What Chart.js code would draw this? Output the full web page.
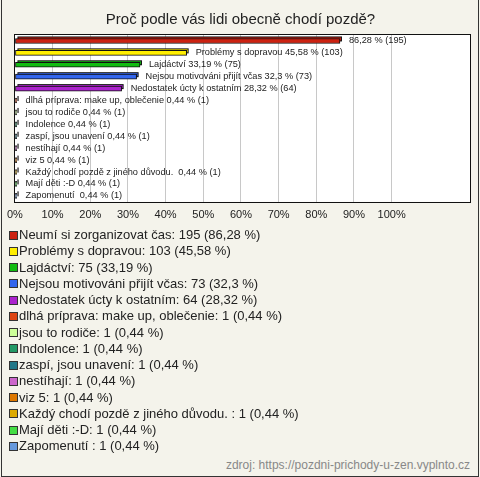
<!DOCTYPE html>
<html>
<head>
<meta charset="utf-8">
<script src="https://cdn.jsdelivr.net/npm/chart.js@4.4.1/dist/chart.umd.min.js"></script>
<style>
  html, body { margin: 0; padding: 0; }
  body { width: 480px; height: 477px; background: #f4f3eb; position: relative; overflow: hidden;
         font-family: "Liberation Sans", Arial, sans-serif; }
  #frame { position: absolute; left: 1px; top: -1px; width: 478px; height: 478px; box-sizing: border-box;
           border: 1px solid #333; pointer-events: none; }
  #chart { position: absolute; left: 0; top: 0; }
  #legend { position: absolute; left: 9px; top: 227px; margin: 0; padding: 0; list-style: none; }
  #legend li { height: 16.25px; line-height: 16.25px; font-size: 13px; color: #222; white-space: nowrap;
               display: flex; align-items: center; }
  #legend .sw { width: 7px; height: 7px; border: 1px solid #333; margin-right: 1px; flex: none; }
  #source { position: absolute; right: 10px; top: 458px; font-size: 12px; color: #888; white-space: nowrap; line-height: 14px; }
</style>
</head>
<body>
<canvas id="chart" width="480" height="232"></canvas>
<ul id="legend"></ul>
<div id="source"></div>
<div id="frame"></div>
<script>
const chartTitle = "Proč podle vás lidi obecně chodí pozdě?";
const sourceText = "zdroj: https://pozdni-prichody-u-zen.vyplnto.cz";
const categories = [
  "Neumí si zorganizovat čas",
  "Problémy s dopravou",
  "Lajdáctví",
  "Nejsou motivováni přijít včas",
  "Nedostatek úcty k ostatním",
  "dlhá príprava: make up, oblečenie",
  "jsou to rodiče",
  "Indolence",
  "zaspí, jsou unavení",
  "nestíhají",
  "viz 5",
  "Každý chodí pozdě z jiného důvodu. ",
  "Mají děti :-D",
  "Zapomenutí "
];
const counts = [195, 103, 75, 73, 64, 1, 1, 1, 1, 1, 1, 1, 1, 1];
const percents = [86.28, 45.58, 33.19, 32.3, 28.32, 0.44, 0.44, 0.44, 0.44, 0.44, 0.44, 0.44, 0.44, 0.44];
const colors = [
  "#cc2211", "#ffee00", "#11bb11", "#3366ee", "#aa22cc",
  "#dd4411", "#ccff99", "#229966", "#227788", "#cc66cc",
  "#dd7700", "#ddaa00", "#44dd44", "#6699dd"
];
const tickValues = [0, 10, 20, 30, 40, 50, 60, 70, 80, 90, 100];
const axisMax = 120.8;

const fmt = v => String(v).replace('.', ',');
// first bar label in the reference shows no category name
const barLabels = categories.map((c, i) =>
  (i === 0 ? "" : c + " ") + fmt(percents[i]) + " % (" + counts[i] + ")");

// HTML legend
const legendEl = document.getElementById('legend');
categories.forEach((c, i) => {
  const li = document.createElement('li');
  const sw = document.createElement('span');
  sw.className = 'sw';
  sw.style.background = colors[i];
  li.appendChild(sw);
  li.appendChild(document.createTextNode(c + ": " + counts[i] + " (" + fmt(percents[i]) + " %)"));
  legendEl.appendChild(li);
});
document.getElementById('source').textContent = sourceText;

const plotFrame = {
  id: 'plotFrame',
  beforeDraw(chart) {
    const a = chart.chartArea, ctx = chart.ctx;
    ctx.save();
    ctx.fillStyle = '#ffffff';
    ctx.fillRect(a.left, a.top, a.right - a.left, a.bottom - a.top);
    ctx.restore();
  },
  afterDraw(chart) {
    const a = chart.chartArea, ctx = chart.ctx;
    ctx.save();
    ctx.strokeStyle = '#111';
    ctx.lineWidth = 1;
    const l = Math.round(a.left) - 0.5, t = Math.round(a.top) - 0.5;
    const r = Math.round(a.right) + 0.5, b = Math.round(a.bottom) + 0.5;
    ctx.strokeRect(l, t, r - l, b - t);
    ctx.restore();
  }
};

const bar3d = {
  id: 'bar3d',
  beforeDatasetsDraw(chart) {
    const ctx = chart.ctx;
    const meta = chart.getDatasetMeta(0);
    ctx.save();
    meta.data.forEach((el, i) => {
      const p = el.getProps(['x', 'y', 'base', 'height'], true);
      const x0 = Math.min(p.base, p.x) + 2, x1 = Math.max(p.base, p.x) + 2;
      const y0 = p.y - p.height / 2 - 2;
      ctx.fillStyle = '#111';
      ctx.fillRect(x0, y0, x1 - x0, p.height);
      ctx.fillStyle = colors[i];
      if (x1 - x0 > 2) ctx.fillRect(x0 + 1, y0 + 1, x1 - x0 - 2, p.height - 2);
    });
    ctx.restore();
  },
  afterDatasetsDraw(chart) {
    const ctx = chart.ctx;
    const meta = chart.getDatasetMeta(0);
    ctx.save();
    ctx.font = '9.2px "Liberation Sans", Arial, sans-serif';
    ctx.fillStyle = '#222';
    ctx.textBaseline = 'middle';
    ctx.textAlign = 'left';
    meta.data.forEach((el, i) => {
      const p = el.getProps(['x', 'y'], true);
      ctx.fillText(barLabels[i], p.x + 9, p.y);
    });
    ctx.restore();
  }
};

new Chart(document.getElementById('chart'), {
  type: 'bar',
  data: {
    labels: categories,
    datasets: [{
      data: percents,
      backgroundColor: colors,
      borderColor: '#111',
      borderWidth: 1,
      borderSkipped: false,
      barThickness: 5
    }]
  },
  options: {
    responsive: false,
    animation: false,
    indexAxis: 'y',
    layout: { padding: { left: 11, right: 10, top: 0, bottom: 3 } },
    plugins: {
      legend: { display: false },
      tooltip: { enabled: false },
      title: {
        display: true,
        text: chartTitle,
        color: '#222',
        font: { family: '"Liberation Sans", Arial, sans-serif', size: 15, weight: 'normal', lineHeight: 1.2 },
        padding: { top: 11, bottom: 6 }
      }
    },
    scales: {
      x: {
        min: 0,
        max: axisMax,
        afterBuildTicks(scale) { scale.ticks = tickValues.map(v => ({ value: v })); },
        grid: {
          drawTicks: false,
          color: ctx => (ctx.tick && ctx.tick.value > 0 && ctx.tick.value <= 100) ? '#c8c8c8' : 'rgba(0,0,0,0)',
          lineWidth: 1
        },
        border: { display: false },
        ticks: {
          autoSkip: false,
          maxRotation: 0,
          padding: 7,
          color: '#222',
          font: { family: '"Liberation Sans", Arial, sans-serif', size: 11 },
          callback: v => v + '%'
        }
      },
      y: {
        display: false,
        grid: { display: false }
      }
    }
  },
  plugins: [plotFrame, bar3d]
});
</script>
</body>
</html>
